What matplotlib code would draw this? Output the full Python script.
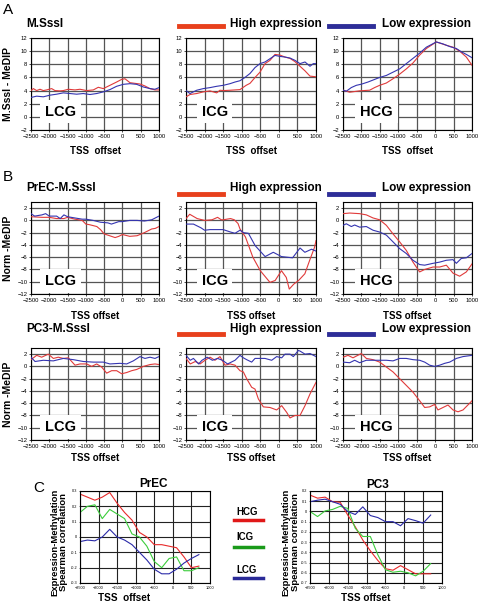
import matplotlib
matplotlib.use('Agg')
import matplotlib.pyplot as plt

plt.rcParams['font.family'] = ['Liberation Sans', 'DejaVu Sans']

# ---------------- data ----------------
# Panel A (M.SssI - MeDIP)
a_lcg_hi_x = [-2500,-2436,-2345,-2254,-2163,-2072,-1935,-1844,-1707,-1616,-1480,-1297,-1161,-979,-796,-660,-523,-341,-159,-22,69,206,342,479,616,752,889,1000]
a_lcg_hi_y = [4.0,4.3,4.0,4.2,4.0,4.1,4.3,4.0,3.95,4.0,4.2,4.1,4.2,4.0,4.1,4.5,4.3,4.8,5.3,5.7,5.8,5.2,5.1,5.0,4.7,4.3,4.1,4.1]
a_lcg_lo_x = [-2500,-2345,-2163,-1981,-1799,-1616,-1434,-1252,-1070,-888,-705,-523,-341,-159,23,206,388,570,752,889,1000]
a_lcg_lo_y = [2.95,3.15,3.05,3.3,3.45,3.65,3.55,3.45,3.55,3.4,3.55,3.8,4.15,4.65,4.95,5.05,4.95,4.55,4.3,4.2,4.45]

a_icg_hi_x = [-2500,-2392,-2212,-2033,-1854,-1674,-1585,-1495,-1315,-1181,-1046,-880,-777,-640,-508,-373,-238,-104,31,165,300,434,569,704,838,1000]
a_icg_hi_y = [3.05,3.4,3.55,3.8,3.95,3.65,4.05,4.0,4.05,4.1,4.15,4.8,5.1,6.0,6.8,8.1,8.6,9.5,9.4,9.1,8.9,8.4,7.7,7.0,6.2,6.1]
a_icg_lo_x = [-2500,-2392,-2212,-2033,-1854,-1674,-1495,-1315,-1181,-1046,-912,-777,-642,-508,-373,-238,-104,31,165,300,434,569,704,838,928,1000]
a_icg_lo_y = [4.0,3.55,4.05,4.3,4.45,4.65,4.8,5.05,5.3,5.5,6.0,6.6,7.5,8.1,8.35,8.85,9.35,9.2,9.1,8.95,8.6,8.1,8.35,7.7,8.1,8.1]

a_hcg_hi_x = [-2500,-2319,-2048,-1776,-1641,-1505,-1324,-1143,-963,-782,-601,-420,-239,32,300,485,665,846,1000]
a_hcg_hi_y = [4.06,3.75,3.96,4.06,4.46,4.8,5.15,5.8,6.5,7.3,8.2,9.4,10.4,11.4,10.9,10.6,10.0,9.1,7.85]
a_hcg_lo_x = [-2500,-2410,-2274,-2138,-2003,-1822,-1686,-1505,-1324,-1143,-963,-782,-601,-420,-239,-103,32,213,394,575,710,846,1000]
a_hcg_lo_y = [4.06,3.9,4.46,4.8,4.97,5.3,5.6,6.0,6.3,6.8,7.3,8.1,8.9,9.7,10.6,11.0,11.4,11.1,10.7,10.4,9.9,9.5,9.0]

# Panel B top (PrEC-M.SssI, Norm -MeDIP)
b1_lcg_hi_x = [-2500,-2200,-2000,-1800,-1600,-1500,-1300,-1100,-1000,-900,-700,-600,-500,-300,-200,-100,0,200,400,600,800,900,1000]
b1_lcg_hi_y = [0.6,0.5,0.5,0.3,0.3,0.5,0.2,0.0,-0.6,-0.7,-1.0,-1.5,-2.2,-2.6,-2.8,-2.6,-2.3,-2.6,-2.5,-2.0,-1.4,-1.3,-1.0]
b1_lcg_lo_x = [-2500,-2400,-2200,-2100,-2000,-1800,-1700,-1600,-1500,-1300,-1100,-1000,-800,-600,-400,-300,-200,-100,0,200,400,600,800,900,1000]
b1_lcg_lo_y = [1.1,0.7,0.9,1.1,0.7,0.7,0.3,0.9,0.6,0.4,0.2,0.2,0.0,-0.3,-0.4,-0.6,-0.4,-0.2,-0.2,0.0,0.0,-0.1,0.1,0.4,0.7]

b1_icg_hi_x = [-2500,-2400,-2200,-2000,-1800,-1650,-1550,-1500,-1300,-1200,-1100,-1046,-900,-700,-500,-240,-100,70,200,280,400,530,700,830,960,1000]
b1_icg_hi_y = [0.3,1.0,0.3,0.0,0.1,0.5,0.1,0.1,0.3,0.1,-0.5,-1.4,-2.7,-6.0,-8.2,-10.1,-9.8,-8.2,-9.3,-11.2,-10.4,-9.8,-8.7,-6.5,-4.4,-3.3]
b1_icg_lo_x = [-2500,-2300,-2100,-2000,-1850,-1650,-1500,-1300,-1180,-1046,-950,-820,-640,-370,-150,70,370,570,700,880,1000]
b1_icg_lo_y = [-0.6,-0.6,-1.2,-1.6,-1.5,-1.5,-1.5,-1.9,-2.1,-1.6,-2.0,-2.1,-4.1,-5.9,-5.2,-5.9,-6.1,-4.5,-5.2,-4.7,-5.0]

b1_hcg_hi_x = [-2500,-2319,-2048,-1867,-1686,-1505,-1324,-1143,-963,-782,-601,-420,-284,-58,123,304,485,665,846,1000]
b1_hcg_hi_y = [1.1,1.2,1.1,0.9,0.4,0.1,-0.8,-2.2,-3.5,-4.9,-6.8,-8.4,-8.0,-7.6,-7.6,-7.3,-8.6,-9.1,-8.4,-7.1]
b1_hcg_lo_x = [-2500,-2410,-2274,-2183,-2048,-1867,-1686,-1505,-1324,-1143,-963,-782,-601,-420,-284,-58,123,304,485,575,710,846,1000]
b1_hcg_lo_y = [-0.8,-0.55,-1.0,-0.75,-1.1,-1.0,-1.6,-1.9,-2.4,-3.5,-4.6,-5.4,-6.5,-7.2,-7.3,-7.0,-6.8,-6.5,-6.4,-7.0,-6.2,-6.1,-5.4]

# Panel B bottom (PC3-M.SssI, Norm -MeDIP)
b2_lcg_hi_x = [-2500,-2345,-2208,-2026,-1889,-1753,-1616,-1479,-1297,-1160,-978,-841,-704,-568,-431,-294,-157,-21,116,253,389,572,754,891,1000]
b2_lcg_hi_y = [1.1,1.8,1.5,2.0,1.3,1.5,1.3,1.4,0.2,0.4,0.4,0.0,0.4,-0.1,-1.1,-0.7,-0.7,-1.2,-1.0,-0.7,-0.5,0.0,0.3,0.4,0.3]
b2_lcg_lo_x = [-2500,-2390,-2163,-1889,-1616,-1343,-1070,-796,-523,-341,-68,116,298,480,617,754,891,1000]
b2_lcg_lo_y = [1.5,0.8,1.0,0.9,1.3,1.1,0.8,0.7,0.7,0.4,0.5,0.4,0.9,1.6,1.3,1.5,1.3,1.6]

b2_icg_hi_x = [-2500,-2385,-2250,-2120,-1990,-1850,-1720,-1585,-1450,-1315,-1180,-1046,-956,-867,-732,-642,-552,-418,-238,-59,76,211,300,435,569,704,838,1000]
b2_icg_hi_y = [1.3,0.4,0.8,0.4,1.0,1.5,1.0,1.6,0.2,0.4,0.2,-0.7,-0.9,-2.0,-3.4,-3.7,-5.3,-6.6,-6.7,-7.1,-6.4,-7.5,-8.4,-8.0,-8.0,-6.4,-4.5,-2.6]
b2_icg_lo_x = [-2500,-2385,-2300,-2160,-2070,-1930,-1790,-1650,-1520,-1380,-1180,-1046,-956,-867,-732,-642,-507,-373,-193,-59,76,166,300,390,525,569,704,838,1000]
b2_icg_lo_y = [1.8,1.0,1.3,0.4,1.0,1.5,1.0,1.3,1.0,0.4,1.0,1.8,1.4,1.1,0.7,1.3,1.3,1.3,1.0,1.6,1.4,2.0,2.0,1.6,2.6,2.5,2.0,2.1,1.6]

b2_hcg_hi_x = [-2500,-2364,-2229,-2003,-1867,-1686,-1505,-1324,-1143,-963,-782,-601,-420,-284,-149,-13,77,213,349,485,620,756,937,1000]
b2_hcg_hi_y = [1.5,1.8,1.4,2.1,1.3,1.1,0.7,-0.1,-0.9,-2.0,-3.1,-4.2,-5.6,-6.7,-6.6,-6.2,-7.1,-6.7,-6.3,-7.1,-7.4,-7.1,-6.0,-5.6]
b2_hcg_lo_x = [-2500,-2319,-2183,-2048,-1867,-1686,-1505,-1324,-1143,-963,-782,-601,-420,-284,-149,-13,123,259,394,575,756,1000]
b2_hcg_lo_y = [0.7,0.6,1.0,0.6,1.0,1.0,1.0,1.0,0.9,1.3,1.3,1.1,1.0,0.7,0.2,0.0,0.2,0.5,0.7,1.3,1.6,1.8]

# Panel C (Spearman correlation)
c_x = [-2500,-2300,-2100,-1900,-1700,-1500,-1300,-1100,-900,-700,-500,-300,-100,100,300,500,700]
c_prec_hcg = [0.28,0.26,0.24,0.26,0.29,0.22,0.16,0.11,0.03,0.0,-0.05,-0.05,-0.06,-0.07,-0.13,-0.2,-0.19]
c_prec_icg = [0.16,0.2,0.21,0.12,0.18,0.15,0.12,0.02,0.0,-0.06,-0.16,-0.2,-0.14,-0.13,-0.22,-0.22,-0.2]
c_prec_lcg = [-0.03,-0.02,-0.025,0.0,0.05,0.0,-0.02,-0.05,-0.1,-0.15,-0.21,-0.24,-0.24,-0.21,-0.17,-0.14,-0.115]
c_pc3_hcg = [0.16,0.13,0.14,0.095,0.09,-0.035,-0.15,-0.28,-0.385,-0.48,-0.56,-0.575,-0.53,-0.57,-0.61,-0.61,-0.61]
c_pc3_icg = [0.0,-0.05,0.005,0.02,0.05,0.03,-0.165,-0.245,-0.245,-0.425,-0.57,-0.595,-0.585,-0.6,-0.63,-0.585,-0.51]
c_pc3_lcg = [0.095,0.11,0.12,0.095,0.07,0.0,-0.03,0.045,-0.04,-0.06,-0.1,-0.1,-0.14,-0.07,-0.09,-0.115,-0.035]

x_ticks = [-2500,-2000,-1500,-1000,-500,0,500,1000]
a_yticks = [-2,0,2,4,6,8,10,12]
b_yticks = [-12,-10,-8,-6,-4,-2,0,2]
c_prec_yticks = [-0.3,-0.2,-0.1,0,0.1,0.2,0.3]
c_prec_ylabels = ['-0.3','-0.2','-0.1','0','0.1','0.2','0.3']
c_pc3_yticks = [-0.7,-0.6,-0.5,-0.4,-0.3,-0.2,-0.1,0,0.1,0.2]
c_pc3_ylabels = ['-0.7','-0.6','-0.5','-0.4','-0.3','-0.2','-0.1','0','0.1','0.2']

# ---------------- figure ----------------
W, H = 480, 603
fig = plt.figure(figsize=(4.8, 6.03), dpi=100)

RED = '#e03a3a'
BLUE = '#3434b0'
LRED = '#e8401c'
LBLUE = '#2e2e98'


def px(x, y):
    return x / W, 1 - y / H


def add_ax(l, t, r, b):
    return fig.add_axes([l / W, 1 - b / H, (r - l) / W, (b - t) / H])


def style_ab(ax, ylim, yticks):
    ax.set_xlim(-2500, 1000)
    ax.set_ylim(*ylim)
    ax.set_xticks(x_ticks)
    ax.set_yticks(yticks)
    ax.set_axisbelow(True)
    ax.grid(True, color='#555555', lw=0.9)
    ax.tick_params(labelsize=4.2, length=1.5, width=0.5, pad=1.2)
    for s in ax.spines.values():
        s.set_linewidth(0.8)


def cat_label(ax, txt, fx, fy):
    ax.text(fx, fy, txt, transform=ax.transAxes, fontsize=10.5, fontweight='bold',
            ha='center', va='center', zorder=3,
            bbox=dict(fc='white', ec='none', pad=3.5))


lefts = [(31, 159), (186, 316), (343, 472)]

rows = [
    (38, 130, (-2, 12), a_yticks,
     [(a_lcg_hi_x, a_lcg_hi_y, a_lcg_lo_x, a_lcg_lo_y),
      (a_icg_hi_x, a_icg_hi_y, a_icg_lo_x, a_icg_lo_y),
      (a_hcg_hi_x, a_hcg_hi_y, a_hcg_lo_x, a_hcg_lo_y)], 0.2, 151),
    (202, 294, (-12, 3), b_yticks,
     [(b1_lcg_hi_x, b1_lcg_hi_y, b1_lcg_lo_x, b1_lcg_lo_y),
      (b1_icg_hi_x, b1_icg_hi_y, b1_icg_lo_x, b1_icg_lo_y),
      (b1_hcg_hi_x, b1_hcg_hi_y, b1_hcg_lo_x, b1_hcg_lo_y)], 0.14, 316),
    (348, 440, (-12, 3), b_yticks,
     [(b2_lcg_hi_x, b2_lcg_hi_y, b2_lcg_lo_x, b2_lcg_lo_y),
      (b2_icg_hi_x, b2_icg_hi_y, b2_icg_lo_x, b2_icg_lo_y),
      (b2_hcg_hi_x, b2_hcg_hi_y, b2_hcg_lo_x, b2_hcg_lo_y)], 0.14, 458),
]
cats = ['LCG', 'ICG', 'HCG']
cat_fx = [0.23, 0.22, 0.26]

for (top, bot, ylim, yt, series, cy, tss_y) in rows:
    for i, (l, r) in enumerate(lefts):
        ax = add_ax(l, top, r, bot)
        style_ab(ax, ylim, yt)
        hx, hy, lx, ly = series[i]
        ax.plot(hx, hy, color=RED, lw=0.8, zorder=4)
        ax.plot(lx, ly, color=BLUE, lw=0.8, zorder=4)
        cat_label(ax, cats[i], cat_fx[i], cy)
        fig.text(*px((l + r) / 2, tss_y), 'TSS  offset' if top == 38 else 'TSS offset',
                 ha='center', va='center', fontsize=7, fontweight='bold')

# y labels
fig.text(*px(8, 84), 'M.SssI - MeDIP', rotation=90, ha='center', va='center',
         fontsize=7.5, fontweight='bold')
fig.text(*px(8, 248), 'Norm -MeDIP', rotation=90, ha='center', va='center',
         fontsize=7.5, fontweight='bold')
fig.text(*px(8, 394), 'Norm -MeDIP', rotation=90, ha='center', va='center',
         fontsize=7.5, fontweight='bold')

# panel letters
fig.text(*px(3, 10), 'A', ha='left', va='center', fontsize=11)
fig.text(*px(3, 177), 'B', ha='left', va='center', fontsize=11)
fig.text(*px(33, 488), 'C', ha='left', va='center', fontsize=11)

# titles and legends
for (title, ty, by) in [('M.SssI', 24, 25.5), ('PrEC-M.SssI', 188, 194), ('PC3-M.SssI', 329, 334)]:
    fig.text(*px(26, ty), title, ha='left', va='center', fontsize=8.5, fontweight='bold')
    fig.add_artist(plt.Line2D([179 / W, 223 / W], [1 - by / H] * 2, color=LRED, lw=3.5))
    fig.text(*px(230, ty), 'High expression', ha='left', va='center', fontsize=8.5, fontweight='bold')
    fig.add_artist(plt.Line2D([329 / W, 373 / W], [1 - by / H] * 2, color=LBLUE, lw=3.5))
    fig.text(*px(382, ty), 'Low expression', ha='left', va='center', fontsize=8.5, fontweight='bold')

# ---------------- panel C ----------------
CRED = '#e82a2a'
CGREEN = '#3ccc3c'
CBLUE = '#2a2aa8'


def style_c(ax, ylim, yt, yl):
    ax.set_xlim(-2500, 1000)
    ax.set_ylim(*ylim)
    ax.set_xticks(x_ticks)
    ax.set_yticks(yt)
    ax.set_yticklabels(yl)
    ax.set_axisbelow(True)
    ax.grid(True, color='#222222', lw=0.8)
    ax.tick_params(labelsize=2.8, length=1, width=0.4, pad=1)
    for s in ax.spines.values():
        s.set_linewidth(0.8)


axc1 = add_ax(80, 491, 210, 583)
style_c(axc1, (-0.3, 0.3), c_prec_yticks, c_prec_ylabels)
axc1.plot(c_x, c_prec_hcg, color=CRED, lw=0.8)
axc1.plot(c_x, c_prec_icg, color=CGREEN, lw=0.8)
axc1.plot(c_x, c_prec_lcg, color=CBLUE, lw=0.8)

axc2 = add_ax(310, 491, 442, 583)
style_c(axc2, (-0.7, 0.2), c_pc3_yticks, c_pc3_ylabels)
axc2.plot(c_x, c_pc3_hcg, color=CRED, lw=0.8)
axc2.plot(c_x, c_pc3_icg, color=CGREEN, lw=0.8)
axc2.plot(c_x, c_pc3_lcg, color=CBLUE, lw=0.8)

fig.text(*px(153, 484), 'PrEC', ha='center', va='center', fontsize=8.5, fontweight='bold')
fig.text(*px(378, 485), 'PC3', ha='center', va='center', fontsize=8.5, fontweight='bold')
for x0 in (55, 286):
    fig.text(*px(x0, 542), 'Expression-Methylation', rotation=90, ha='center', va='center',
             fontsize=6.8, fontweight='bold')
    fig.text(*px(x0 + 9, 542), 'Spearman correlation', rotation=90, ha='center', va='center',
             fontsize=6.8, fontweight='bold')
fig.text(*px(124, 598), 'TSS  offset', ha='center', va='center', fontsize=7.2, fontweight='bold')
fig.text(*px(366, 598), 'TSS offset', ha='center', va='center', fontsize=7.2, fontweight='bold')

for (lab, ty, by, col) in [('HCG', 512, 520, '#e01818'), ('ICG', 537, 547, '#1a9a1a'), ('LCG', 570, 578, '#2a2a98')]:
    fig.text(*px(236, ty), lab, ha='left', va='center', fontsize=7, fontweight='bold')
    fig.add_artist(plt.Line2D([234 / W, 263 / W], [1 - by / H] * 2, color=col, lw=2.5))

fig.savefig('out.png', dpi=100)
